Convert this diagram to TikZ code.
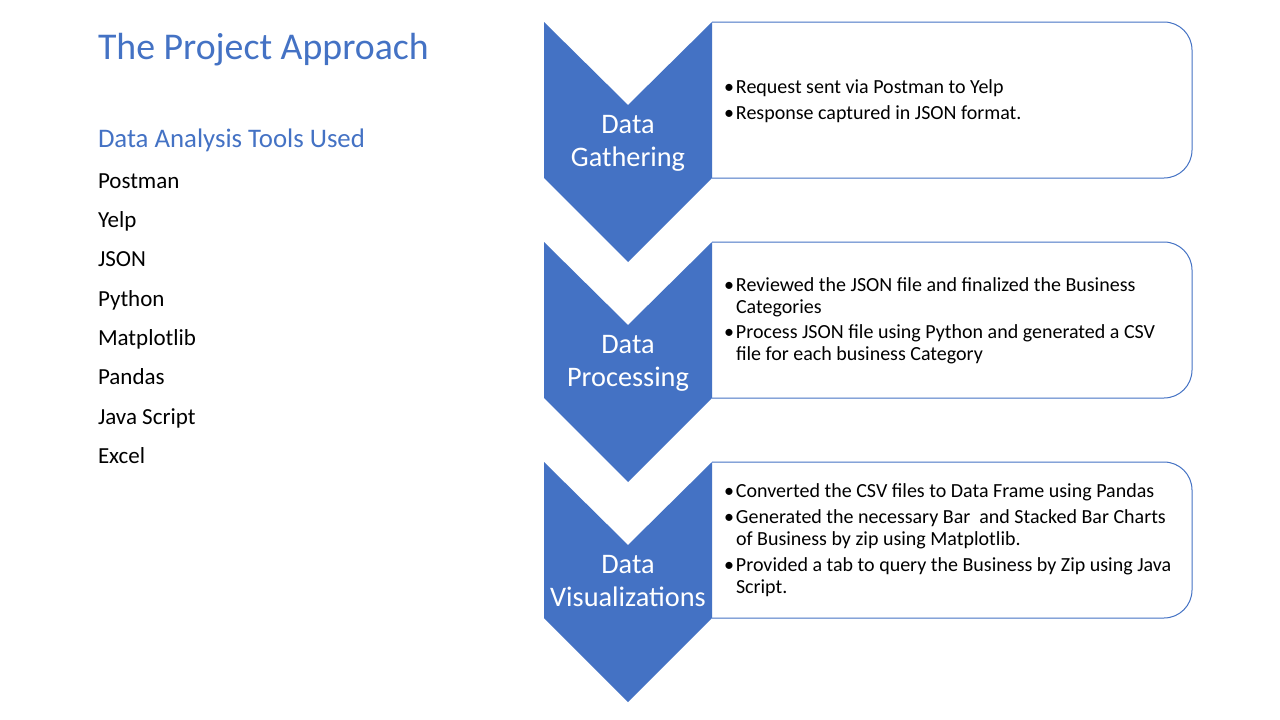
\documentclass[tikz,border=0pt]{standalone}
\usepackage{fontspec}
\setmainfont{Carlito}
\usepackage{tikz}
\definecolor{slideblue}{RGB}{68,114,196}

\begin{document}
\begin{tikzpicture}[
		x=1pt, y=-1pt,
		every node/.style={inner sep=0pt, outer sep=0pt},
		chevron/.style={fill=slideblue, draw=none},
		stagebox/.style={draw=slideblue, line width=1pt, fill=white, rounded corners=28pt},
		stagelabel/.style={text=white, align=center, font=\fontsize{28.3}{33}\selectfont},
		stagetext/.style={anchor=north west, font=\fontsize{20}{22}\selectfont},
		tool/.style={anchor=base west, font=\fontsize{23}{26}\selectfont}
	]
  \useasboundingbox (0,0) rectangle (1280,720);
  % left column
  \node (title) [anchor=base west, text=slideblue, font=\fontsize{37.8}{40}\selectfont] at (98,59) {The Project Approach};
  \node (tools) [anchor=base west, text=slideblue, font=\fontsize{26.8}{30}\selectfont] at (98,147.7) {Data Analysis Tools Used};
  \node (tool_1) [tool] at (98,188.3) {Postman};
  \node (tool_2) [tool] at (98,227.6) {Yelp};
  \node (tool_3) [tool] at (98,266.9) {JSON};
  \node (tool_4) [tool] at (98,306.2) {Python};
  \node (tool_5) [tool] at (98,345.5) {Matplotlib};
  \node (tool_6) [tool] at (98,384.8) {Pandas};
  \node (tool_7) [tool] at (98,424.1) {Java Script};
  \node (tool_8) [tool] at (98,463.4) {Excel};
  % stage 1
  \draw [stagebox] (712,22) -- (1192,22) -- (1192,178) -- (712,178);
  \fill [chevron] (544,22) -- (628,105) -- (712,22) -- (712,178) -- (628,262) -- (544,178) -- cycle;
  \node (gather_label) [stagelabel] at (628,142.9) {\strut Data\\Gathering\strut};
  \node (gather_text) [stagetext] at (724,78.4) {%
    \begin{tabular}{@{}p{12pt}@{}l@{}}
      \textbullet & Request sent via Postman to Yelp\\[3.7pt]
      \textbullet & Response captured in JSON format.
    \end{tabular}};
  % stage 2
  \draw [stagebox] (712,242) -- (1192,242) -- (1192,398) -- (712,398);
  \fill [chevron] (544,242) -- (628,325) -- (712,242) -- (712,398) -- (628,482) -- (544,398) -- cycle;
  \node (process_label) [stagelabel] at (628,362.9) {\strut Data\\Processing\strut};
  \node (process_text) [stagetext] at (724,275.8) {%
    \begin{tabular}{@{}p{12pt}@{}l@{}}
      \textbullet & Reviewed the JSON file and finalized the Business\\
                  & Categories\\[3.6pt]
      \textbullet & Process JSON file using Python and generated a CSV\\
                  & file for each business Category
    \end{tabular}};
  % stage 3
  \draw [stagebox] (712,462) -- (1192,462) -- (1192,618) -- (712,618);
  \fill [chevron] (544,462) -- (628,545) -- (712,462) -- (712,618) -- (628,702) -- (544,618) -- cycle;
  \node (visual_label) [stagelabel] at (628,582.9) {\strut Data\\Visualizations\strut};
  \node (visual_text) [stagetext] at (724,482.4) {%
    \begin{tabular}{@{}p{12pt}@{}l@{}}
      \textbullet & Converted the CSV files to Data Frame using Pandas\\[3.6pt]
      \textbullet & Generated the necessary Bar\ \ and Stacked Bar Charts\\
                  & of Business by zip using Matplotlib.\\[3.6pt]
      \textbullet & Provided a tab to query the Business by Zip using Java\\
                  & Script.
    \end{tabular}};
\end{tikzpicture}
\end{document}
